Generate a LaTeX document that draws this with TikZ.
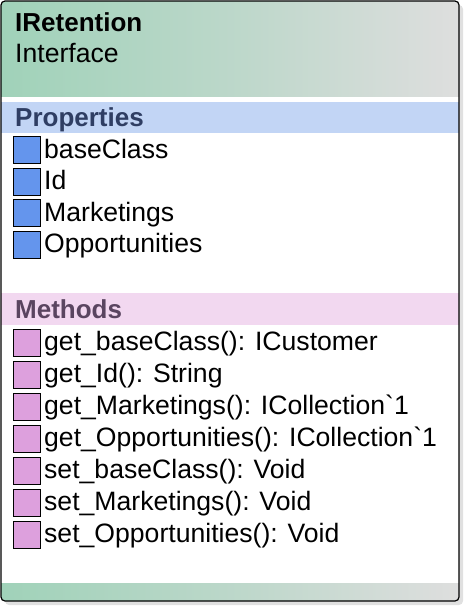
\documentclass[tikz,border=0pt]{standalone}
\usepackage{fontspec}
\setmainfont{Liberation Sans}
\usepackage{tikz}
\usetikzlibrary{positioning}

\definecolor{hdrgreen}{RGB}{160,210,185}
\definecolor{hdrgrey}{RGB}{222,222,222}
\definecolor{propband}{RGB}{194,213,245}
\definecolor{proptext}{RGB}{47,62,99}
\definecolor{propicon}{RGB}{100,149,237}
\definecolor{methband}{RGB}{242,216,240}
\definecolor{methtext}{RGB}{90,69,96}
\definecolor{methicon}{RGB}{221,160,221}

\tikzset{
  txt/.style={anchor=base west, inner sep=0pt, font=\fontsize{26.6}{30}\selectfont},
  ttl/.style={txt, font=\fontsize{26}{30}\selectfont\bfseries},
  pbox/.style={draw=black, fill=propicon, minimum width=27pt, minimum height=27pt, inner sep=0pt},
  mbox/.style={draw=black, fill=methicon, minimum width=27pt, minimum height=27pt, inner sep=0pt},
}

\begin{document}
\begin{tikzpicture}[x=1pt, y=-1pt]
			\useasboundingbox (0,0) rectangle (466,608);
			
			% shadow and body
			\fill[black!12, rounded corners=4pt] (5,5) rectangle (463,605);
			\fill[white, rounded corners=4pt] (1,1) rectangle (459,601);
			\begin{scope}
				\clip[rounded corners=4pt] (1,1) rectangle (459,601);
				\shade[left color=hdrgreen, right color=hdrgrey, middle color=hdrgreen!55!hdrgrey] (1,1) rectangle (459,96);
				\fill[propband] (1,102) rectangle (459,133);
				\fill[methband] (1,293) rectangle (459,325);
				\shade[left color=hdrgreen, right color=hdrgrey, middle color=hdrgreen!55!hdrgrey] (1,583) rectangle (459,601);
			\end{scope}
			\draw[black, line width=1.2pt, rounded corners=4pt] (1,1) rectangle (459,601);
			
			\node[ttl] (name) at (15,31) {IRetention};
			\node[txt] (kind) at (15,62) {Interface};
			
			\node[ttl, text=proptext] (props) at (15,126) {Properties};
			\node[pbox] (p1) at (26.5,150) {};
			\node[txt] (p1t) at (44,158) {baseClass};
			\node[pbox] (p2) at (26.5,181.5) {};
			\node[txt] (p2t) at (44,189.5) {Id};
			\node[pbox] (p3) at (26.5,213) {};
			\node[txt] (p3t) at (44,221) {Marketings};
			\node[pbox] (p4) at (26.5,244.5) {};
			\node[txt] (p4t) at (44,252.5) {Opportunities};
			
			\node[ttl, text=methtext] (meths) at (15,318) {Methods};
			\node[mbox] (m1) at (26.5,342.5) {};
			\node[txt] (m1t) at (44,350) {get\_baseClass(): ICustomer};
			\node[mbox] (m2) at (26.5,374.5) {};
			\node[txt] (m2t) at (44,382) {get\_Id(): String};
			\node[mbox] (m3) at (26.5,406.5) {};
			\node[txt] (m3t) at (44,414) {get\_Marketings(): ICollection\textasciigrave 1};
			\node[mbox] (m4) at (26.5,438.5) {};
			\node[txt] (m4t) at (44,446) {get\_Opportunities(): ICollection\textasciigrave 1};
			\node[mbox] (m5) at (26.5,470.5) {};
			\node[txt] (m5t) at (44,478) {set\_baseClass(): Void};
			\node[mbox] (m6) at (26.5,502.5) {};
			\node[txt] (m6t) at (44,510) {set\_Marketings(): Void};
			\node[mbox] (m7) at (26.5,534.5) {};
			\node[txt] (m7t) at (44,542) {set\_Opportunities(): Void};
		\end{tikzpicture}
\end{document}
